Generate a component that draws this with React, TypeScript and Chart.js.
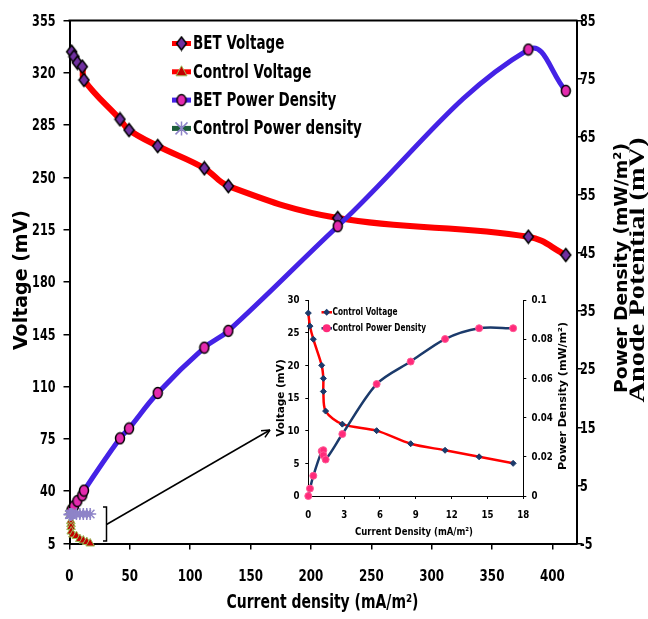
import React, { useEffect, useRef } from "react";
import { Chart, registerables } from "chart.js";
Chart.register(...registerables);

// ---------- data ----------
const BET_CURRENT = [1.8, 3.7, 6.5, 10.6, 12.0, 41.8, 49.3, 73.1, 111.7, 131.6, 222.2, 380.1, 411.1];
const BET_VOLTAGE = [334.1, 330.8, 326.8, 324.1, 315.2, 288.9, 281.7, 271.0, 256.1, 244.2, 222.8, 210.3, 198.1];
const BET_POWER = [0.8, 1.4, 2.3, 3.3, 4.1, 13.1, 14.8, 20.9, 28.7, 31.6, 49.6, 80.0, 72.9];

const CONTROL_CURRENT = [0, 0.14, 0.42, 1.12, 1.26, 1.26, 1.45, 2.85, 5.72, 8.57, 11.45, 14.3, 17.15];
const CONTROL_VOLTAGE = [28, 26, 24, 20, 18, 16, 13, 11, 10, 8, 7, 6, 5];
const CONTROL_POWER = [0, 0.0038, 0.0103, 0.0229, 0.0234, 0.0208, 0.0186, 0.0316, 0.0571, 0.0686, 0.0801, 0.0856, 0.0856];

const MAIN_X_TICKS = [0, 50, 100, 150, 200, 250, 300, 350, 400];
const MAIN_LEFT_TICKS = [5, 40, 75, 110, 145, 180, 215, 250, 285, 320, 355];
const MAIN_RIGHT_TICKS = [-5, 5, 15, 25, 35, 45, 55, 65, 75, 85];
const INSET_X_TICKS = [0, 3, 6, 9, 12, 15, 18];
const INSET_LEFT_TICKS = [0, 5, 10, 15, 20, 25, 30];
const INSET_RIGHT_TICKS = [0, 0.02, 0.04, 0.06, 0.08, 0.1];
const INSET_RIGHT_LABELS = ["0", "0.02", "0.04", "0.06", "0.08", "0.1"];

const LEGEND_MAIN = ["BET Voltage", "Control Voltage", "BET Power Density", "Control Power density"];
const LEGEND_INSET = ["Control Voltage", "Control Power Density"];

// ---------- styles ----------
const WIDE = "'DejaVu Sans', Verdana, sans-serif";
const SERIF = "'Liberation Serif', 'Times New Roman', serif";
const RED = "#FF0000";
const BLUE = "#4422E6";
const PURPLE = "#7030A0";
const MAGENTA = "#E42AAE";
const NAVY = "#1B3A6B";
const PINK = "#FF2A7A";

function makeDiamond(w: number, h: number, fill: string, stroke: string, lw: number) {
  const c = document.createElement("canvas");
  const W = Math.ceil(w + lw * 2);
  const H = Math.ceil(h + lw * 2);
  c.width = W;
  c.height = H;
  const ctx = c.getContext("2d")!;
  ctx.beginPath();
  ctx.moveTo(W / 2, lw);
  ctx.lineTo(W - lw, H / 2);
  ctx.lineTo(W / 2, H - lw);
  ctx.lineTo(lw, H / 2);
  ctx.closePath();
  ctx.fillStyle = fill;
  ctx.fill();
  ctx.lineWidth = lw;
  ctx.strokeStyle = stroke;
  ctx.stroke();
  return c;
}
function makeEllipse(w: number, h: number, fill: string, stroke: string, lw: number) {
  const c = document.createElement("canvas");
  const W = Math.ceil(w + lw * 2);
  const H = Math.ceil(h + lw * 2);
  c.width = W;
  c.height = H;
  const ctx = c.getContext("2d")!;
  ctx.beginPath();
  ctx.ellipse(W / 2, H / 2, w / 2, h / 2, 0, 0, Math.PI * 2);
  ctx.fillStyle = fill;
  ctx.fill();
  ctx.lineWidth = lw;
  ctx.strokeStyle = stroke;
  ctx.stroke();
  return c;
}

// text helper: optional rotation, optional horizontal squeeze (sx) or target width
function drawText(
  ctx: CanvasRenderingContext2D,
  text: string,
  x: number,
  y: number,
  font: string,
  opts: { rotate?: boolean; width?: number; sx?: number; align?: CanvasTextAlign; color?: string } = {}
) {
  ctx.save();
  ctx.font = font;
  ctx.fillStyle = opts.color || "#000";
  ctx.textAlign = opts.align || "center";
  ctx.textBaseline = "middle";
  ctx.translate(x, y);
  if (opts.rotate) ctx.rotate(-Math.PI / 2);
  if (opts.width) {
    const m = ctx.measureText(text).width;
    ctx.scale(opts.width / m, 1);
  } else if (opts.sx) {
    ctx.scale(opts.sx, 1);
  }
  ctx.fillText(text, 0, 0);
  ctx.restore();
}

function pts(xs: number[], ys: number[]) {
  return xs.map((x, i) => ({ x, y: ys[i] }));
}

const setTicks = (vals: number[]) => (s: any) => {
  s.ticks = vals.map((v) => ({ value: v }));
};

export default function App() {
  const mainRef = useRef<HTMLCanvasElement>(null);
  const insetRef = useRef<HTMLCanvasElement>(null);

  useEffect(() => {
    const diamond = makeDiamond(10, 13, PURPLE, "#000", 1.5);
    const ellipse = makeEllipse(9, 11, MAGENTA, "#000", 1.5);

    const mainOverlay = {
      id: "mainOverlay",
      afterDraw(chart: any) {
        const ctx = chart.ctx as CanvasRenderingContext2D;
        const a = chart.chartArea;
        ctx.save();
        // top border
        ctx.strokeStyle = "#000";
        ctx.lineWidth = 2;
        ctx.beginPath();
        ctx.moveTo(a.left - 1, a.top);
        ctx.lineTo(a.right + 1, a.top);
        ctx.stroke();

        // tick labels
        const tf = `bold 16.5px ${WIDE}`;
        const sx = chart.scales.x, sy = chart.scales.y, sy1 = chart.scales.y1;
        MAIN_LEFT_TICKS.forEach((v) =>
          drawText(ctx, String(v), 55.5, sy.getPixelForValue(v) + 1, tf, { align: "right", sx: 0.68 })
        );
        MAIN_RIGHT_TICKS.forEach((v) =>
          drawText(ctx, String(v), 580, sy1.getPixelForValue(v) + 1, tf, { align: "left", sx: 0.68 })
        );
        MAIN_X_TICKS.forEach((v) =>
          drawText(ctx, String(v), sx.getPixelForValue(v), 577, tf, { sx: 0.72 })
        );

        // bracket + arrow
        ctx.strokeStyle = "#000";
        ctx.lineWidth = 1.5;
        ctx.beginPath();
        ctx.moveTo(103, 507);
        ctx.lineTo(106.5, 507);
        ctx.lineTo(106.5, 541);
        ctx.lineTo(103, 541);
        ctx.stroke();
        const x0 = 106.5, y0 = 524.5, x1 = 270, y1 = 430;
        ctx.beginPath();
        ctx.moveTo(x0, y0);
        ctx.lineTo(x1, y1);
        ctx.stroke();
        const ang = Math.atan2(y1 - y0, x1 - x0);
        ctx.beginPath();
        ctx.moveTo(x1, y1);
        ctx.lineTo(x1 - 9 * Math.cos(ang - 0.45), y1 - 9 * Math.sin(ang - 0.45));
        ctx.moveTo(x1, y1);
        ctx.lineTo(x1 - 9 * Math.cos(ang + 0.45), y1 - 9 * Math.sin(ang + 0.45));
        ctx.stroke();

        // legend
        const rows = [43.5, 71.8, 100.1, 128.4];
        const lineCols = [RED, RED, BLUE, "#1E5E3A"];
        rows.forEach((ry, i) => {
          ctx.strokeStyle = lineCols[i];
          ctx.lineWidth = 5;
          ctx.beginPath();
          ctx.moveTo(172, ry);
          ctx.lineTo(191, ry);
          ctx.stroke();
          const mx = 181.5;
          if (i === 0) ctx.drawImage(diamond, mx - diamond.width / 2, ry - diamond.height / 2);
          if (i === 2) ctx.drawImage(ellipse, mx - ellipse.width / 2, ry - ellipse.height / 2);
          if (i === 1) {
            ctx.beginPath();
            ctx.moveTo(mx, ry - 6);
            ctx.lineTo(mx + 5.5, ry + 4);
            ctx.lineTo(mx - 5.5, ry + 4);
            ctx.closePath();
            ctx.fillStyle = "#C00000";
            ctx.fill();
            ctx.strokeStyle = "#9BBB59";
            ctx.lineWidth = 1;
            ctx.stroke();
          }
          if (i === 3) {
            ctx.strokeStyle = "#8E84C8";
            ctx.lineWidth = 1.5;
            ctx.beginPath();
            ctx.moveTo(mx - 6, ry - 6);
            ctx.lineTo(mx + 6, ry + 6);
            ctx.moveTo(mx + 6, ry - 6);
            ctx.lineTo(mx - 6, ry + 6);
            ctx.moveTo(mx, ry - 7);
            ctx.lineTo(mx, ry + 7);
            ctx.stroke();
          }
          drawText(ctx, LEGEND_MAIN[i], 193, ry + 1, `bold 19px ${WIDE}`, { align: "left", sx: 0.71 });
        });

        // axis titles
        drawText(ctx, "Voltage (mV)", 22, 280, `bold 19px ${WIDE}`, { rotate: true });
        drawText(ctx, "Current density (mA/m²)", 322.5, 603, `bold 19px ${WIDE}`, { sx: 0.735 });
        drawText(ctx, "Power Density (mW/m²)", 622, 268, `bold 18px ${WIDE}`, { rotate: true, width: 250 });
        ctx.save();
        ctx.beginPath();
        ctx.rect(629.5, 0, 30, 619);
        ctx.clip();
        drawText(ctx, "Anode Potential (mV)", 638, 270, `bold 23px ${SERIF}`, { rotate: true, width: 265 });
        ctx.restore();
        ctx.restore();
      },
    };

    const axisGrid = { drawOnChartArea: false, drawTicks: true, tickLength: 6, color: "#000", lineWidth: 1.5 };
    const axisBorder = { display: true, color: "#000", width: 2 };

    const main = new Chart(mainRef.current!, {
      type: "scatter",
      data: {
        datasets: [
          {
            label: LEGEND_MAIN[0],
            data: pts(BET_CURRENT, BET_VOLTAGE),
            yAxisID: "y",
            showLine: true,
            borderColor: RED,
            borderWidth: 6,
            tension: 0.4,
            pointStyle: diamond as any,
            order: 4,
            clip: false as any,
          },
          {
            label: LEGEND_MAIN[1],
            data: pts(CONTROL_CURRENT, CONTROL_VOLTAGE),
            yAxisID: "y",
            showLine: true,
            borderColor: RED,
            borderWidth: 3,
            tension: 0.3,
            pointStyle: "triangle",
            pointRadius: 5,
            pointBackgroundColor: "#C00000",
            pointBorderColor: "#9BBB59",
            pointBorderWidth: 1,
            order: 3,
            clip: false as any,
          },
          {
            label: LEGEND_MAIN[2],
            data: pts(BET_CURRENT, BET_POWER),
            yAxisID: "y1",
            showLine: true,
            borderColor: BLUE,
            borderWidth: 5,
            tension: 0.4,
            pointStyle: ellipse as any,
            order: 2,
            clip: false as any,
          },
          {
            label: LEGEND_MAIN[3],
            data: pts(CONTROL_CURRENT, CONTROL_POWER),
            yAxisID: "y1",
            showLine: true,
            borderColor: "#1E5E3A",
            borderWidth: 3,
            tension: 0.3,
            pointStyle: "star",
            pointRadius: 6,
            pointBorderColor: "#8E84C8",
            pointBackgroundColor: "#8E84C8",
            pointBorderWidth: 1.5,
            order: 1,
            clip: false as any,
          },
        ],
      },
      options: {
        animation: false,
        responsive: false,
        devicePixelRatio: 1,
        layout: { padding: { top: 20.5, left: 0, right: 0, bottom: 0 } },
        plugins: { legend: { display: false }, tooltip: { enabled: false } },
        scales: {
          x: {
            type: "linear",
            min: 0,
            max: 420,
            afterBuildTicks: setTicks(MAIN_X_TICKS),
            afterFit: (s: any) => {
              s.height = 75.5;
            },
            grid: axisGrid,
            border: axisBorder,
            ticks: { display: false },
          },
          y: {
            type: "linear",
            position: "left",
            min: 5,
            max: 355,
            afterBuildTicks: setTicks(MAIN_LEFT_TICKS),
            afterFit: (s: any) => {
              s.width = 69.5;
            },
            grid: axisGrid,
            border: axisBorder,
            ticks: { display: false },
          },
          y1: {
            type: "linear",
            position: "right",
            min: -5,
            max: 85,
            afterBuildTicks: setTicks(MAIN_RIGHT_TICKS),
            afterFit: (s: any) => {
              s.width = 71.5;
            },
            grid: axisGrid,
            border: axisBorder,
            ticks: { display: false },
          },
        },
      },
      plugins: [mainOverlay],
    });

    const insetOverlay = {
      id: "insetOverlay",
      afterDraw(chart: any) {
        const ctx = chart.ctx as CanvasRenderingContext2D;
        ctx.save();
        const tf = `bold 10.5px ${WIDE}`;
        const sx = chart.scales.x, sy = chart.scales.y, sy1 = chart.scales.y1;
        INSET_LEFT_TICKS.forEach((v) =>
          drawText(ctx, String(v), 41.5, sy.getPixelForValue(v) + 0.5, tf, { align: "right", sx: 0.82 })
        );
        INSET_RIGHT_TICKS.forEach((v, i) =>
          drawText(ctx, INSET_RIGHT_LABELS[i], 273.5, sy1.getPixelForValue(v) + 0.5, tf, { align: "left", sx: 0.82 })
        );
        INSET_X_TICKS.forEach((v) => drawText(ctx, String(v), sx.getPixelForValue(v), 230, tf, { sx: 0.82 }));

        const rows = [27.3, 43.3];
        rows.forEach((ry, i) => {
          ctx.strokeStyle = i === 0 ? RED : NAVY;
          ctx.lineWidth = 2.5;
          ctx.beginPath();
          ctx.moveTo(63.5, ry);
          ctx.lineTo(74, ry);
          ctx.stroke();
          const mx = 68.7;
          if (i === 0) {
            ctx.fillStyle = NAVY;
            ctx.beginPath();
            ctx.moveTo(mx, ry - 3.5);
            ctx.lineTo(mx + 3.5, ry);
            ctx.lineTo(mx, ry + 3.5);
            ctx.lineTo(mx - 3.5, ry);
            ctx.closePath();
            ctx.fill();
          } else {
            ctx.fillStyle = PINK;
            ctx.beginPath();
            ctx.arc(mx, ry, 4, 0, Math.PI * 2);
            ctx.fill();
          }
          drawText(ctx, LEGEND_INSET[i], 74.5, ry + 0.5, `bold 10px ${WIDE}`, { align: "left", sx: 0.74 });
        });
        drawText(ctx, "Voltage (mV)", 23, 113, `bold 10.5px ${WIDE}`, { rotate: true });
        drawText(ctx, "Power Density (mW/m²)", 305, 111, `bold 10.5px ${WIDE}`, { rotate: true, width: 148 });
        drawText(ctx, "Current Density (mA/m²)", 156, 247, `bold 10.5px ${WIDE}`, { sx: 0.81 });
        ctx.restore();
      },
    };

    const iGrid = { drawOnChartArea: false, drawTicks: true, tickLength: 3, color: "#000", lineWidth: 1 };
    const iBorder = { display: true, color: "#000", width: 1 };

    const inset = new Chart(insetRef.current!, {
      type: "scatter",
      data: {
        datasets: [
          {
            label: LEGEND_INSET[0],
            data: pts(CONTROL_CURRENT, CONTROL_VOLTAGE),
            yAxisID: "y",
            showLine: true,
            borderColor: RED,
            borderWidth: 2.5,
            tension: 0.3,
            pointStyle: "rectRot",
            pointRadius: 3,
            pointBackgroundColor: NAVY,
            pointBorderColor: NAVY,
            pointBorderWidth: 1,
            order: 2,
            clip: false as any,
          },
          {
            label: LEGEND_INSET[1],
            data: pts(CONTROL_CURRENT, CONTROL_POWER),
            yAxisID: "y1",
            showLine: true,
            borderColor: NAVY,
            borderWidth: 2.5,
            tension: 0.3,
            pointStyle: "circle",
            pointRadius: 3.5,
            pointBackgroundColor: PINK,
            pointBorderColor: "#FF5A95",
            pointBorderWidth: 1,
            order: 1,
            clip: false as any,
          },
        ],
      },
      options: {
        animation: false,
        responsive: false,
        devicePixelRatio: 1,
        layout: { padding: { top: 15, left: 0, right: 0, bottom: 0 } },
        plugins: { legend: { display: false }, tooltip: { enabled: false } },
        scales: {
          x: {
            type: "linear",
            min: 0,
            max: 18,
            afterBuildTicks: setTicks(INSET_X_TICKS),
            afterFit: (s: any) => {
              s.height = 47;
            },
            grid: iGrid,
            border: iBorder,
            ticks: { display: false },
          },
          y: {
            type: "linear",
            position: "left",
            min: 0,
            max: 30,
            afterBuildTicks: setTicks(INSET_LEFT_TICKS),
            afterFit: (s: any) => {
              s.width = 50.3;
            },
            grid: iGrid,
            border: iBorder,
            ticks: { display: false },
          },
          y1: {
            type: "linear",
            position: "right",
            min: 0,
            max: 0.1,
            afterBuildTicks: setTicks(INSET_RIGHT_TICKS),
            afterFit: (s: any) => {
              s.width = 84.7;
            },
            grid: iGrid,
            border: iBorder,
            ticks: { display: false },
          },
        },
      },
      plugins: [insetOverlay],
    });

    return () => {
      main.destroy();
      inset.destroy();
    };
  }, []);

  return (
    <div style={{ position: "fixed", left: 0, top: 0, width: 648, height: 619, background: "#fff" }}>
      <canvas ref={mainRef} width={648} height={619} style={{ position: "absolute", left: 0, top: 0 }} />
      <canvas ref={insetRef} width={350} height={258} style={{ position: "absolute", left: 258, top: 285 }} />
    </div>
  );
}
